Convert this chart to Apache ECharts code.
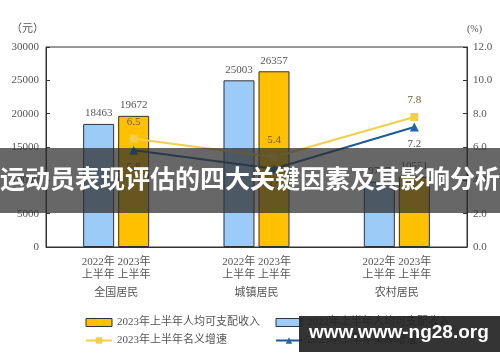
<!DOCTYPE html>
<html><head><meta charset="utf-8">
<script src="https://cdn.jsdelivr.net/npm/echarts@6/dist/echarts.min.js"></script>
<style>html,body{margin:0;padding:0;background:#fff}#c{width:500px;height:362px}</style>
</head><body><div id="c"></div>
<script>
const categories = ['全国居民', '城镇居民', '农村居民'];
const subLabels = ['2022年', '2023年'];
const income2022 = [18463, 25003, 9787];
const income2023 = [19672, 26357, 10551];
const nominalGrowth = [6.5, 5.4, 7.8];
const realGrowth = [5.8, 4.7, 7.2];
const leftTicks = [0, 30000, 5000];
const rightTicks = [0, 12, 2];
const seriesNames = ['2023年上半年人均可支配收入', '2022年上半年人均可支配收入', '2023年上半年名义增速', '2023年上半年实际增速'];
const bannerText = '运动员表现评估的四大关键因素及其影响分析';
const watermarkText = 'www.www-ng28.org';

const FONT = '"Liberation Serif", "Noto Sans CJK SC", serif';
const TXT = '#555';
const lineOffset = 0.125;

const chart = echarts.init(document.getElementById('c'), null, {renderer: 'canvas'});
chart.setOption({
  animation: false,
  textStyle: {fontFamily: FONT},
  grid: {left: 46, right: 33, top: 47, bottom: 115, show: true, borderColor: '#333', borderWidth: 1, backgroundColor: 'transparent'},
  legend: [
    {left: 80, top: 312, orient: 'vertical', itemGap: 7, itemWidth: 26, itemHeight: 8,
     textStyle: {fontSize: 11, color: TXT, fontFamily: FONT},
     data: [{name: seriesNames[0], icon: 'rect', itemStyle: {borderWidth: 1, borderColor: '#333'}}, {name: seriesNames[2]}]},
    {left: 270, top: 312, orient: 'vertical', itemGap: 7, itemWidth: 26, itemHeight: 8,
     textStyle: {fontSize: 11, color: TXT, fontFamily: FONT},
     data: [{name: seriesNames[1], icon: 'rect', itemStyle: {borderWidth: 1, borderColor: '#333'}}, {name: seriesNames[3]}]}
  ],
  xAxis: [
    {type: 'category', data: categories, axisTick: {show: false},
     axisLine: {lineStyle: {color: '#333'}},
     axisLabel: {interval: 0, margin: 9, color: TXT, fontSize: 11, lineHeight: 13, fontFamily: FONT,
       formatter: c => subLabels.join(' ') + '\n上半年 上半年\n{g|' + c + '}',
       rich: {g: {fontSize: 11, color: TXT, padding: [9, 0, 0, 0], fontFamily: FONT}}}},
    {type: 'value', min: 0, max: categories.length, show: false}
  ],
  yAxis: [
    {type: 'value', min: leftTicks[0], max: leftTicks[1], interval: leftTicks[2], name: '（元）',
     nameLocation: 'end', nameGap: 12, nameTextStyle: {color: TXT, fontSize: 11, align: 'right', padding: [0, 2, 0, 0], fontFamily: FONT},
     axisLine: {show: true, lineStyle: {color: '#333'}},
     axisTick: {show: true, inside: true, length: 4, lineStyle: {color: '#333'}},
     splitLine: {show: false},
     axisLabel: {color: TXT, fontSize: 11, margin: 7, fontFamily: FONT, formatter: v => String(v)}},
    {type: 'value', min: rightTicks[0], max: rightTicks[1], interval: rightTicks[2], name: '(%)',
     nameLocation: 'end', nameGap: 13, nameTextStyle: {color: TXT, fontSize: 10, align: 'left', fontFamily: FONT},
     axisLine: {show: true, lineStyle: {color: '#333'}},
     axisTick: {show: true, inside: true, length: 4, lineStyle: {color: '#333'}},
     splitLine: {show: false},
     axisLabel: {color: TXT, fontSize: 11, margin: 6, fontFamily: FONT, formatter: v => v.toFixed(1)}}
  ],
  series: [
    {name: seriesNames[1], type: 'bar', data: income2022, barWidth: 31, barGap: '13%',
     itemStyle: {color: '#9DCBF7', borderColor: '#333', borderWidth: 1},
     label: {show: true, position: 'top', distance: 5, color: TXT, fontSize: 11, fontFamily: FONT}},
    {name: seriesNames[0], type: 'bar', data: income2023, barWidth: 31,
     itemStyle: {color: '#FFC000', borderColor: '#333', borderWidth: 1},
     label: {show: true, position: 'top', distance: 5, color: TXT, fontSize: 11, fontFamily: FONT}},
    {name: seriesNames[2], type: 'line', xAxisIndex: 1, yAxisIndex: 1,
     data: nominalGrowth.map((v, i) => [i + 0.5 + lineOffset, v]),
     symbol: 'rect', symbolSize: 8, lineStyle: {color: '#F2CF4A', width: 2},
     itemStyle: {color: '#F2CF4A'},
     label: {show: true, position: 'top', distance: 7, color: '#6b5a2a', fontSize: 11, fontFamily: FONT, formatter: p => p.value[1].toFixed(1)}},
    {name: seriesNames[3], type: 'line', xAxisIndex: 1, yAxisIndex: 1,
     data: realGrowth.map((v, i) => [i + 0.5 + lineOffset, v]),
     symbol: 'triangle', symbolSize: 9, lineStyle: {color: '#1F5A96', width: 2},
     itemStyle: {color: '#1F66B0'},
     label: {show: true, position: 'bottom', distance: 7, color: TXT, fontSize: 11, fontFamily: FONT, formatter: p => p.value[1].toFixed(1)}}
  ],
  graphic: [
    {type: 'rect', left: 0, top: 148, z: 100, shape: {width: 500, height: 65}, style: {fill: 'rgba(45,45,45,0.72)'}},
    {type: 'text', left: 'center', top: 166, z: 101, style: {text: bannerText, fill: '#fff', font: 'bold 25px "Noto Sans CJK SC", sans-serif'}},
    {type: 'rect', left: 299, top: 316, z: 100, shape: {width: 201, height: 36}, style: {fill: 'rgba(35,35,35,0.92)'}},
    {type: 'text', left: 309, top: 323, z: 101, style: {text: watermarkText, fill: '#fff', font: 'bold 19px "Liberation Sans", sans-serif'}}
  ]
});
</script></body></html>
